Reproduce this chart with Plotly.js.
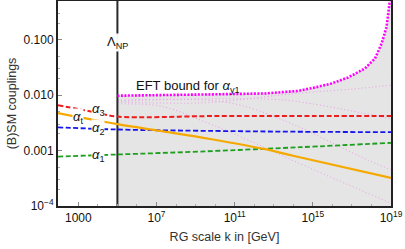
<!DOCTYPE html>
<html>
<head>
<meta charset="utf-8">
<script src="https://cdn.plot.ly/plotly-3.0.1.min.js"></script>
<style>html,body{margin:0;padding:0;background:#fff}#chart{width:405px;height:249px}</style>
</head>
<body>
<div id="chart"></div>
<script>
// ---- data (x given as log10 of k in GeV, y as coupling values) ----
const LAMBDA_NP = 1e5;
const xRangeLog = [1.96, 19];
const yRangeVals = [1e-4, 0.5];

const kA3 = [1.96, 3, 4, 5, 10, 15, 19];
const a3  = [0.0066, 0.0056, 0.0048, 0.0041, 0.0042, 0.0042, 0.0042];

const kA2 = [1.96, 5, 10, 14, 19];
const a2  = [0.00263, 0.0024, 0.00226, 0.00219, 0.00215];

const kA1 = [1.96, 5, 9.24, 14.35, 19];
const a1  = [0.00078, 0.00085, 0.00096, 0.00115, 0.00138];

const kAt = [1.96, 5, 7.2, 9.75, 12.5, 14.1, 19];
const at  = [0.00474, 0.0030, 0.00226, 0.00162, 0.00107, 0.00079, 0.00032];

const kBound = [5, 8, 10, 12.56, 14.26, 15.11, 15.96, 16.81, 17.66, 18.18, 18.52, 18.77, 18.89, 18.95, 18.99];
const bound  = [0.00977, 0.0100, 0.01035, 0.01074, 0.01194, 0.01377, 0.01626, 0.02084, 0.03027, 0.04581, 0.0855, 0.170, 0.340, 0.449, 0.7];

const kF1 = [5, 9.24, 12.56, 14.1, 17, 19];
const f1  = [0.00759, 0.00724, 0.00933, 0.01072, 0.01288, 0.01514];
const kF2 = [5, 12.56, 14.09, 17.5, 19];
const f2  = [0.00813, 0.00851, 0.00776, 0.00479, 0.00372];
const kF3 = [5, 9.5, 11.5, 14.35, 15.47, 17.5, 19];
const f3  = [0.00776, 0.00813, 0.00631, 0.00263, 0.0017, 0.000759, 0.000447];
const kF4 = [5, 7.23, 9.6, 11.69, 14.24, 19];
const f4  = [0.00692, 0.00631, 0.00316, 0.00155, 0.000603, 0.000112];

const xTickVals = [1e3, 1e7, 1e11, 1e15, 1e19];
const xTickText = ['1000', '10<sup>7</sup>', '10<sup>11</sup>', '10<sup>15</sup>', '10<sup>19</sup>'];
const yTickVals = [1e-4, 1e-3, 1e-2, 1e-1];
const yTickText = ['10<sup>−4</sup>', '0.001', '0.010', '0.100'];

// ---- build ----
const P = a => a.map(e => Math.pow(10, e));
const FLOOR = 1e-5;

const fillX = P(kBound).concat([1e19, LAMBDA_NP]);
const fillY = bound.concat([FLOOR, FLOOR]);

const faint = () => ({color: '#ea9be8', width: 1, dash: '1px,2.5px', shape: 'spline'});
const traces = [
  {x: fillX, y: fillY, fill: 'toself', fillcolor: '#e5e5e5', mode: 'lines', line: {width: 0}, hoverinfo: 'skip'},
  {x: P(kF1), y: f1, mode: 'lines', line: faint()},
  {x: P(kF2), y: f2, mode: 'lines', line: faint()},
  {x: P(kF3), y: f3, mode: 'lines', line: faint()},
  {x: P(kF4), y: f4, mode: 'lines', line: faint()},
  {x: [LAMBDA_NP, LAMBDA_NP], y: [FLOOR, 10], mode: 'lines', line: {color: '#2a2a2a', width: 2}},
  {x: P(kA1), y: a1, mode: 'lines', line: {color: '#1f9e1f', width: 1.8, dash: '5px,2.5px', shape: 'spline'}},
  {x: P(kA2), y: a2, mode: 'lines', line: {color: '#1515ee', width: 1.8, dash: '5px,2.5px', shape: 'spline'}},
  {x: P(kAt), y: at, mode: 'lines', line: {color: '#f5a900', width: 2.2, shape: 'spline'}},
  {x: P(kA3), y: a3, mode: 'lines', line: {color: '#ee1c1c', width: 2, dash: '5px,2.5px', shape: 'spline'}},
  {x: P(kBound), y: bound, mode: 'lines', line: {color: '#ff00ff', width: 2.6, dash: '2px,1.5px'}}
];

const FONT = 'Liberation Sans, Arial, sans-serif';
const lab = (x, y, t) => ({x: x, y: y, xref: 'x', yref: 'y', text: t, showarrow: false,
  font: {family: FONT, size: 13, color: '#111'}, bgcolor: 'rgba(255,255,255,0.95)', borderpad: 0});

const layout = {
  width: 405, height: 249,
  margin: {l: 58, r: 14, t: 1, b: 43},
  paper_bgcolor: '#fff', plot_bgcolor: '#fff',
  showlegend: false,
  font: {family: FONT, size: 12, color: '#111'},
  xaxis: {
    type: 'log', range: xRangeLog,
    tickmode: 'array', tickvals: xTickVals, ticktext: xTickText,
    ticks: 'inside', ticklen: 4, tickcolor: '#888', tickwidth: 1,
    minor: {tickmode: 'array', tickvals: P([2,3,4,5,6,8,9,10,12,13,14,16,17,18]), ticks: 'inside', ticklen: 2, tickcolor: '#aaa'},
    showgrid: false, zeroline: false,
    showline: true, mirror: true, linecolor: '#222', linewidth: 2,
    tickfont: {size: 12, color: '#111'},
    title: {text: 'RG scale k in [GeV]', font: {size: 12.5, color: '#333'}, standoff: 8}
  },
  yaxis: {
    type: 'log', range: [Math.log10(yRangeVals[0]), Math.log10(yRangeVals[1])],
    tickmode: 'array', tickvals: yTickVals, ticktext: yTickText,
    ticks: 'inside', ticklen: 4, tickcolor: '#888', tickwidth: 1,
    minor: {tickmode: 'array', tickvals: [2e-4,3e-4,5e-4,2e-3,3e-3,5e-3,2e-2,3e-2,5e-2,2e-1,3e-1], ticks: 'inside', ticklen: 2, tickcolor: '#aaa'},
    showgrid: false, zeroline: false,
    showline: true, mirror: true, linecolor: '#222', linewidth: 2,
    tickfont: {size: 12, color: '#111'},
    title: {text: '(B)SM couplings', font: {size: 12.5, color: '#333'}, standoff: 4}
  },
  annotations: [
    lab(5, -1.045, 'Λ<sub>NP</sub>'),
    Object.assign(lab(5.92, -1.84, 'EFT bound for <i>α</i><sub>y1</sub>'), {xanchor: 'left', bgcolor: 'rgba(0,0,0,0)'}),
    lab(4.0, -2.26, '<i>α</i><sub>3</sub>'),
    lab(3.0, -2.40, '<i>α</i><sub>t</sub>'),
    lab(4.0, -2.61, '<i>α</i><sub>2</sub>'),
    lab(4.0, -3.08, '<i>α</i><sub>1</sub>')
  ]
};

Plotly.newPlot('chart', traces, layout, {staticPlot: true, displayModeBar: false});
</script>
</body>
</html>
